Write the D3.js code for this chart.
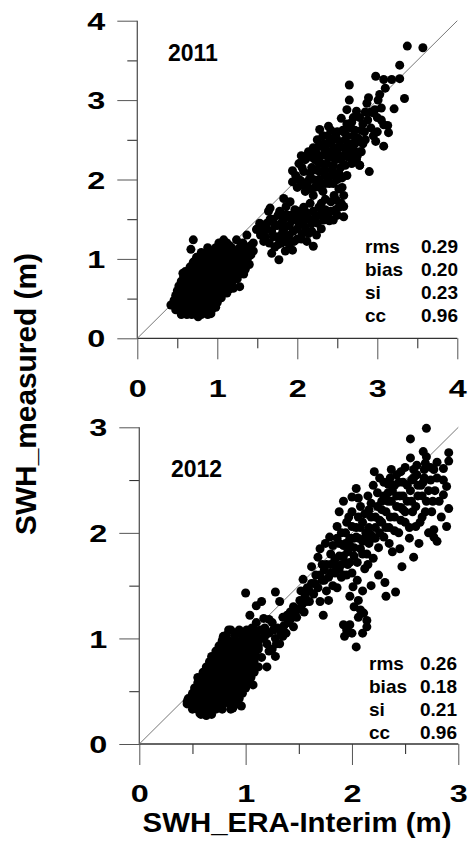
<!DOCTYPE html>
<html>
<head>
<meta charset="utf-8">
<script src="https://cdn.jsdelivr.net/npm/d3@7"></script>
<style>
body{margin:0;background:#fff}
text{font-family:"Liberation Sans",Arial,sans-serif;font-weight:bold;fill:#000}
</style>
</head>
<body>
<script>
var years=["2011","2012"]
var statNames=["rms","bias","si","cc"]
var stats2011=["0.29","0.20","0.23","0.96"]
var stats2012=["0.26","0.18","0.21","0.96"]
var ticks2011=[0,1,2,3,4]
var ticks2012=[0,1,2,3]
var minor2011=[0.5,1.5,2.5,3.5]
var minor2012=[0.5,1.5,2.5]
var xTitle="SWH_ERA-Interim (m)"
var yTitle="SWH_measured (m)"

// [ERA-Interim, measured]
var pts2011=[
[0.76,0.27],[0.55,0.30],[0.62,0.30],[0.68,0.30],[0.80,0.30],[0.88,0.30],[0.92,0.31],
[0.48,0.36],[0.53,0.36],[0.60,0.36],[0.66,0.36],[0.72,0.36],[0.78,0.36],[0.85,0.36],[0.93,0.36],[0.98,0.39],
[0.42,0.42],[0.47,0.42],[0.52,0.42],[0.58,0.42],[0.64,0.42],[0.70,0.42],[0.76,0.42],[0.82,0.42],[0.90,0.42],[0.97,0.42],[1.00,0.45],
[0.46,0.48],[0.51,0.48],[0.56,0.48],[0.62,0.48],[0.68,0.48],[0.74,0.48],[0.80,0.48],[0.86,0.48],[0.94,0.48],[1.00,0.48],
[0.95,0.51],[1.05,0.51],
[0.48,0.54],[0.53,0.54],[0.59,0.54],[0.65,0.54],[0.71,0.54],[0.77,0.54],[0.83,0.54],[0.89,0.54],[0.96,0.54],[1.05,0.55],
[0.50,0.60],[0.55,0.60],[0.61,0.60],[0.67,0.60],[0.73,0.60],[0.79,0.60],[0.85,0.60],[0.91,0.60],[0.99,0.60],[1.08,0.60],[1.15,0.62],
[1.05,0.63],[1.12,0.63],[1.20,0.63],
[0.52,0.66],[0.57,0.66],[0.63,0.66],[0.69,0.66],[0.75,0.66],[0.81,0.66],[0.87,0.66],[0.94,0.66],[1.02,0.66],[1.28,0.65],
[1.10,0.69],[1.18,0.69],
[0.55,0.72],[0.60,0.72],[0.66,0.72],[0.72,0.72],[0.78,0.72],[0.84,0.72],[0.90,0.72],[0.97,0.72],[1.05,0.72],[1.14,0.72],[1.20,0.76],
[1.15,0.75],[1.25,0.75],
[0.58,0.78],[0.64,0.78],[0.70,0.78],[0.76,0.78],[0.82,0.78],[0.88,0.78],[0.95,0.78],[1.02,0.78],[1.10,0.78],[1.20,0.80],
[1.05,0.81],[1.25,0.81],[1.33,0.81],
[0.57,0.82],[0.60,0.84],[0.66,0.84],[0.72,0.84],[0.78,0.84],[0.85,0.84],[0.92,0.84],[0.99,0.84],[1.06,0.84],[1.15,0.84],[1.28,0.86],
[1.12,0.87],[1.22,0.87],[1.35,0.87],
[0.66,0.90],[0.72,0.90],[0.79,0.90],[0.86,0.90],[0.93,0.90],[1.00,0.90],[1.08,0.90],[1.18,0.90],[1.28,0.92],[1.38,0.95],
[1.18,0.93],[1.40,0.93],
[0.70,0.96],[0.77,0.96],[0.84,0.96],[0.91,0.96],[0.98,0.96],[1.05,0.96],[1.13,0.96],[1.22,0.96],[1.32,0.98],
[1.17,0.99],[1.27,0.99],[1.37,0.99],
[0.74,1.02],[0.82,1.02],[0.90,1.02],[0.98,1.02],[1.06,1.02],[1.14,1.02],[1.22,1.02],[1.30,1.02],[1.40,1.04],
[1.20,1.05],[1.30,1.05],[1.42,1.05],
[0.80,1.08],[0.90,1.08],[1.00,1.08],[1.08,1.08],[1.16,1.08],[1.25,1.08],[1.35,1.08],[1.45,1.10],
[1.12,1.11],[1.32,1.11],[1.42,1.11],
[0.67,1.12],[0.88,1.14],[0.98,1.14],[1.06,1.14],[1.18,1.14],[1.28,1.14],[1.38,1.14],[1.45,1.20],
[1.15,1.17],[1.30,1.17],[1.42,1.17],
[0.70,1.24],[1.02,1.20],[1.08,1.24],[1.12,1.20],[1.24,1.24],[1.32,1.20],[1.37,1.30],[1.49,1.37],[1.12,0.57],[0.99,0.61],
[1.50,1.38],[1.53,1.45],[1.58,1.37],[1.60,1.28],[1.62,1.45],[1.64,1.60],[1.66,1.64],[1.65,1.20],[1.68,1.07],[1.68,1.35],
[1.70,1.50],[1.72,1.15],[1.74,1.28],[1.75,1.42],[1.77,0.99],[1.78,1.60],[1.80,1.20],[1.82,1.35],[1.83,1.76],[1.83,1.50],
[1.85,1.10],[1.86,1.66],[1.88,1.28],[1.90,1.42],[1.91,1.72],[1.92,1.55],[1.94,1.11],[1.95,1.35],[1.97,1.62],[2.00,1.25],
[2.02,1.45],[2.05,1.55],[2.06,1.32],[2.08,1.65],[2.10,1.40],[2.12,1.22],[2.15,1.50],[2.16,1.70],[2.18,1.35],[2.20,1.16],
[2.20,1.60],[2.25,1.45],[2.28,1.55],[2.30,1.38],[2.33,1.49],[2.35,1.62],[2.40,1.48],[2.42,1.72],[2.45,1.49],[2.48,1.62],
[2.50,1.55],[2.55,1.70],[2.58,1.53],[2.49,1.74],[2.58,1.66],
[1.62,1.38],[1.66,1.50],[1.70,1.28],[1.72,1.42],[1.76,1.18],[1.76,1.55],[1.80,1.30],[1.80,1.45],[1.84,1.22],[1.85,1.40],
[1.86,1.56],[1.90,1.18],[1.90,1.30],[1.93,1.48],[1.96,1.22],[1.98,1.52],[2.00,1.38],[2.03,1.60],[2.05,1.25],[2.08,1.48],
[2.12,1.58],[2.14,1.32],[2.18,1.45],[2.22,1.52],[2.24,1.30],[2.27,1.65],[2.32,1.58],[2.38,1.55],[2.42,1.60],[2.52,1.65],
[1.58,1.22],[1.54,1.30],
[1.94,2.11],[1.94,1.97],[1.98,2.05],[2.00,1.90],[2.02,2.20],[2.05,1.98],[2.08,2.10],[2.10,1.85],[2.12,2.30],[2.14,2.35],
[2.15,2.00],[2.18,2.15],[2.20,1.80],[2.20,2.40],[2.22,2.25],[2.25,1.95],[2.25,2.50],[2.28,2.63],[2.28,2.10],[2.30,2.30],
[2.32,1.85],[2.33,2.45],[2.35,2.05],[2.37,2.20],[2.38,2.55],[2.39,2.67],[2.40,1.95],[2.42,2.35],[2.44,2.12],[2.45,2.50],
[2.46,1.80],[2.48,2.25],[2.50,2.00],[2.50,2.60],[2.52,2.40],[2.54,2.15],[2.55,2.77],[2.56,1.90],[2.58,2.30],[2.60,2.50],
[2.62,2.05],[2.62,2.70],[2.65,2.35],[2.66,2.65],[2.68,2.20],[2.70,2.55],[2.72,2.45],[2.74,2.86],[2.75,2.30],[2.78,2.35],
[2.78,2.18],[2.80,2.62],[2.82,2.70],[2.85,2.50],[2.87,2.96],[2.89,3.03],[2.90,2.10],[2.92,2.65],[2.95,2.84],[2.97,2.88],
[2.98,2.48],[3.00,2.60],[3.01,3.00],[3.03,3.07],[3.05,2.75],[3.08,2.42],[3.08,2.69],[3.10,3.15],[3.13,2.68],[3.14,2.59],
[3.18,3.26],[3.08,3.26],[2.98,3.30],[3.21,2.89],[3.28,3.27],[3.28,3.44],[3.34,3.02],[3.375,3.68],[3.57,3.66],[2.65,3.19],
[2.65,3.00],[2.62,2.88],[2.70,2.78],[2.58,2.60],[2.78,2.18],[2.80,2.35],[2.35,1.75],[2.30,1.70],[2.22,1.90],[2.05,2.30],
[2.02,2.00],[2.06,2.15],[2.10,2.25],[2.12,1.95],[2.16,2.08],[2.18,2.28],[2.20,2.00],[2.23,2.35],[2.24,2.12],[2.27,2.42],
[2.27,2.00],[2.30,2.20],[2.32,2.55],[2.34,2.38],[2.35,2.12],[2.38,2.00],[2.38,2.45],[2.40,2.28],[2.42,2.62],[2.43,2.05],
[2.45,2.18],[2.46,2.40],[2.48,2.55],[2.50,2.32],[2.52,2.08],[2.53,2.48],[2.55,2.25],[2.57,2.62],[2.58,2.40],[2.60,2.18],
[2.62,2.55],[2.64,2.28],[2.66,2.45],[2.68,2.72],[2.70,2.38],[2.72,2.62],[2.74,2.25],[2.76,2.52],[2.78,2.78],[2.82,2.45],
[2.84,2.60],[2.88,2.75],[2.92,2.85],[2.95,2.55],[3.00,2.78],[3.05,2.90],[2.45,1.95],[2.52,1.88],[2.58,1.80],[2.35,1.95],
[2.28,1.90],[2.08,1.92],[2.16,1.88],[2.26,2.22],[2.36,2.30],[2.44,2.30],[2.56,2.02],[2.62,2.40],[2.68,2.30],[2.85,2.85]
]

var pts2012=[
[0.58,0.28],[0.63,0.27],[0.68,0.28],[0.57,0.29],
[0.50,0.33],[0.55,0.33],[0.60,0.33],[0.66,0.33],[0.72,0.33],[0.78,0.33],[0.86,0.33],[0.88,0.34],[0.96,0.36],
[0.45,0.38],[0.50,0.38],[0.55,0.38],[0.61,0.38],[0.67,0.38],[0.73,0.38],[0.79,0.38],[0.85,0.38],[0.92,0.38],[0.45,0.40],
[0.46,0.43],[0.51,0.43],[0.57,0.43],[0.62,0.43],[0.68,0.43],[0.74,0.43],[0.80,0.43],[0.87,0.43],[0.94,0.43],
[0.50,0.48],[0.55,0.48],[0.60,0.48],[0.66,0.48],[0.72,0.48],[0.78,0.48],[0.84,0.48],[0.90,0.48],[0.97,0.48],
[0.52,0.53],[0.57,0.53],[0.63,0.53],[0.69,0.53],[0.75,0.53],[0.81,0.53],[0.87,0.53],[0.94,0.53],[1.00,0.53],[1.07,0.56],
[0.55,0.58],[0.60,0.58],[0.66,0.58],[0.72,0.58],[0.78,0.58],[0.84,0.58],[0.90,0.58],[0.96,0.58],[1.03,0.58],
[0.55,0.63],[0.58,0.63],[0.63,0.63],[0.69,0.63],[0.75,0.63],[0.81,0.63],[0.87,0.63],[0.93,0.63],[0.99,0.63],[1.05,0.63],
[0.60,0.68],[0.66,0.68],[0.72,0.68],[0.78,0.68],[0.84,0.68],[0.90,0.68],[0.96,0.68],[1.02,0.68],[1.08,0.68],
[0.63,0.73],[0.69,0.73],[0.75,0.73],[0.81,0.73],[0.87,0.73],[0.93,0.73],[0.99,0.73],[1.05,0.73],[1.12,0.73],[1.20,0.73],
[0.66,0.78],[0.72,0.78],[0.78,0.78],[0.84,0.78],[0.90,0.78],[0.96,0.78],[1.02,0.78],[1.08,0.78],
[0.68,0.83],[0.74,0.83],[0.80,0.83],[0.86,0.83],[0.92,0.83],[0.98,0.83],[1.04,0.83],[1.10,0.83],[1.28,0.83],
[0.72,0.88],[0.78,0.88],[0.84,0.88],[0.90,0.88],[0.96,0.88],[1.02,0.88],[1.08,0.88],
[0.75,0.93],[0.81,0.93],[0.87,0.93],[0.93,0.93],[0.99,0.93],[1.05,0.93],[1.12,0.93],
[0.78,0.98],[0.84,0.98],[0.90,0.98],[0.96,0.98],[1.02,0.98],[1.08,0.98],[0.79,1.02],
[0.82,1.03],[0.90,1.03],[0.97,1.03],[1.04,1.03],[1.10,1.03],
[0.84,1.08],[0.86,1.08],[0.94,1.08],[1.01,1.08],[1.08,1.08],
[1.08,0.85],[1.12,0.98],[1.15,0.82],[1.06,1.10],[1.10,1.15],[1.14,1.08],[1.18,1.02],[1.22,0.88],[1.22,1.18],[1.26,1.08],
[1.33,1.05],[1.36,1.12],[1.42,1.18],[1.47,1.25],[1.53,1.32],[1.57,1.35],[1.60,1.45],[1.65,1.52],[1.70,1.60],
[1.05,0.95],[1.10,1.05],[1.12,0.90],[1.15,1.00],[1.15,1.35],[1.10,1.31],[1.04,1.22],[1.17,1.19],[1.00,1.43],[1.28,1.44],
[1.32,1.35],[1.18,1.10],[1.20,0.95],[1.22,1.05],[1.25,0.90],[1.25,1.15],[1.28,1.00],[1.29,0.95],[1.30,1.10],[1.32,0.95],
[1.35,1.20],[1.35,1.02],[1.38,1.05],[1.39,1.22],[1.40,1.15],[1.42,1.25],[1.45,1.11],[1.45,1.30],[1.48,1.20],[1.50,1.28],
[1.51,1.36],[1.52,1.45],[1.54,1.56],[1.55,1.25],[1.56,1.40],[1.58,1.48],[1.60,1.35],[1.62,1.52],[1.62,1.68],[1.64,1.42],
[1.66,1.60],[1.68,1.48],[1.68,1.77],[1.70,1.35],[1.70,1.85],[1.72,1.55],[1.72,1.70],[1.73,1.22],[1.74,1.65],[1.75,1.90],
[1.76,1.45],[1.78,1.58],[1.78,1.36],[1.79,1.96],[1.80,1.70],[1.82,1.50],[1.84,1.62],
[1.80,1.80],[1.82,1.88],[1.85,1.68],[1.86,2.06],[1.86,1.95],[1.88,1.78],[1.90,1.58],[1.90,2.00],[1.92,1.88],[1.94,1.72],
[1.95,2.10],[1.96,1.82],[1.97,2.15],[1.98,1.95],[2.00,1.62],[2.00,2.20],[2.00,2.34],[2.02,1.86],[2.04,2.05],[2.04,2.42],
[2.05,1.72],[2.06,1.95],[2.06,2.33],[2.08,2.25],[2.10,1.80],[2.10,2.10],[2.12,1.66],[2.13,2.00],[2.15,2.35],[2.16,1.90],
[2.18,2.15],[2.20,1.76],[2.20,2.45],[2.21,2.58],[2.22,2.05],[2.24,2.25],[2.25,1.86],[2.26,2.52],[2.28,2.10],[2.30,2.35],
[2.30,1.96],[2.32,2.20],[2.34,2.46],[2.35,2.05],[2.37,2.30],[2.37,2.60],[2.38,1.82],[2.40,2.45],[2.40,2.15],[2.42,2.55],
[2.44,2.00],[2.45,2.35],[2.46,2.24],[2.48,2.48],[2.50,2.10],[2.50,2.62],[2.52,2.30],[2.54,1.95],[2.55,2.40],[2.55,2.71],
[2.55,2.89],[2.57,2.20],[2.58,2.52],[2.60,2.06],[2.61,2.64],[2.61,2.55],[2.62,2.35],[2.63,1.90],[2.65,2.45],[2.66,2.15],
[2.67,2.77],[2.67,2.48],[2.68,2.60],[2.69,2.66],[2.69,2.20],[2.70,2.72],[2.70,2.99],[2.70,2.30],[2.72,2.00],[2.74,2.50],
[2.75,2.20],[2.77,2.60],[2.77,2.03],[2.77,1.96],[2.78,2.40],[2.80,2.67],[2.80,2.52],[2.80,1.92],[2.82,2.30],[2.84,2.15],
[2.86,2.61],[2.86,2.36],[2.86,2.50],[2.89,2.44],[2.89,2.06],[2.91,2.76],[2.91,2.68],[2.91,2.23],
[1.84,1.75],[1.88,1.90],[1.92,1.78],[1.94,2.00],[1.96,1.70],[1.98,1.88],[2.00,2.06],[2.02,1.78],[2.04,1.96],[2.06,2.15],
[2.08,1.85],[2.08,2.05],[2.12,1.95],[2.12,2.18],[2.14,1.80],[2.16,2.05],[2.18,2.28],[2.20,1.95],[2.22,2.15],[2.24,2.38],
[2.26,2.00],[2.28,2.22],[2.30,2.48],[2.32,2.05],[2.34,2.30],[2.36,2.15],[2.38,2.40],[2.40,2.02],[2.42,2.25],[2.44,2.48],
[2.46,2.12],[2.48,2.35],[2.50,2.20],[2.52,2.45],[2.54,2.05],[2.56,2.30],[2.58,2.60],[2.60,2.25],[2.62,2.45],[2.64,2.10],
[2.66,2.35],[2.68,2.52],[2.72,2.40],[2.74,2.62],[2.76,2.30],[1.76,1.70],[1.74,1.55],[1.80,1.62],[1.86,1.48],[1.92,1.60],
[1.98,1.72],[1.88,1.66],[1.94,1.90],[2.02,1.95],[2.10,1.92],[2.18,1.98],[2.26,2.12],[2.34,2.38],[2.42,2.35],[2.48,2.22],
[2.16,2.22],[2.28,2.30],[2.36,2.52],[2.46,2.58],[2.56,2.50],
[2.58,1.77],[2.47,1.68],[2.41,1.44],[2.32,1.40],[2.31,1.53],[2.25,1.60],[2.18,1.50],[2.10,1.45],[2.05,1.55],[2.01,1.49],
[1.98,1.40],[2.06,1.36],[2.08,1.27],[2.11,1.24],[2.14,1.17],[2.14,1.11],[2.02,1.30],[2.06,1.20],[1.92,1.13],[1.98,1.13],
[1.95,1.08],[1.93,1.02],[2.00,1.05],[2.10,1.05],[2.04,0.92],[1.90,1.70],[1.95,1.60],[2.15,1.70],[2.22,1.95],[2.35,1.90],
[2.45,1.85],[1.88,2.20],[1.92,2.30]
]

var svg=d3.select("body").append("svg").attr("width",469).attr("height",843)

var drawPanel=function(pts,max,ticks,minor,year,stats,box){
  var x=d3.scaleLinear().domain([0,max]).range([box.x0,box.x1])
  var y=d3.scaleLinear().domain([0,max]).range([box.y0,box.y1])
  var g=svg.append("g")

  // minor ticks
  var xm=g.append("g").attr("transform","translate(0,"+y(0)+")").attr("color","#222")
    .call(d3.axisBottom(x).tickValues(minor).tickSize(10).tickSizeOuter(0).tickFormat(""))
  var ym=g.append("g").attr("transform","translate("+x(0)+",0)").attr("color","#222")
    .call(d3.axisLeft(y).tickValues(minor).tickSize(10).tickSizeOuter(0).tickFormat(""))
  xm.select(".domain").remove()
  ym.select(".domain").remove()

  // major ticks
  var xa=g.append("g").attr("transform","translate(0,"+y(0)+")").attr("color","#555")
    .call(d3.axisBottom(x).tickValues(ticks).tickSize(21).tickSizeOuter(0).tickFormat(d3.format("d")))
  var ya=g.append("g").attr("transform","translate("+x(0)+",0)").attr("color","#555")
    .call(d3.axisLeft(y).tickValues(ticks).tickSize(20).tickSizeOuter(0).tickFormat(d3.format("d")))
  xa.select(".domain").remove()
  ya.select(".domain").remove()
  xa.selectAll("text").style("font-size","24px").attr("y",box.xlab).attr("dy",null)
    .attr("transform","scale(1.35,1)")
  ya.selectAll("text").style("font-size","24px").attr("x",-32/1.35).attr("dy","0.36em")
    .attr("transform","scale(1.35,1)")

  // axis lines
  g.append("line").attr("x1",x(0)).attr("x2",x(max)).attr("y1",y(0)).attr("y2",y(0))
    .attr("stroke","#333").attr("stroke-width",1.3)
  g.append("line").attr("x1",x(0)).attr("x2",x(0)).attr("y1",y(0)).attr("y2",y(max))
    .attr("stroke","#555").attr("stroke-width",1.3)

  // 1:1 line
  g.append("line").attr("x1",x(0)).attr("y1",y(0)).attr("x2",x(max)).attr("y2",y(max))
    .attr("stroke","#777").attr("stroke-width",1)

  g.append("g").selectAll("circle")
    .data(pts)
    .enter()
    .append("circle")
    .attr("cx",function(d){return x(d[0])})
    .attr("cy",function(d){return y(d[1])})
    .attr("r",4.5)
    .attr("fill","#000")

  g.append("text").attr("x",box.yearX).attr("y",box.yearY).style("font-size","23px").text(year)

  var st=g.append("g")
  st.selectAll(".lab").data(statNames).enter().append("text").attr("class","lab")
    .attr("x",box.statX)
    .attr("y",function(d,i){return box.statY+i*23})
    .style("font-size","19px")
    .text(function(d){return d})
  st.selectAll(".val").data(stats).enter().append("text").attr("class","val")
    .attr("x",box.valX)
    .attr("y",function(d,i){return box.statY+i*23})
    .attr("text-anchor","end")
    .style("font-size","19px")
    .text(function(d){return d})
}

drawPanel(pts2011,4,ticks2011,minor2011,years[0],stats2011,
  {x0:137.3,x1:457.3,y0:338.3,y1:20.7,xlab:58.7,yearX:168,yearY:61,statX:365,valX:458,statY:253})
drawPanel(pts2012,3,ticks2012,minor2012,years[1],stats2012,
  {x0:139.3,x1:458.3,y0:744,y1:427.3,xlab:58,yearX:171,yearY:477,statX:369,valX:457,statY:670})

svg.append("text").attr("x",297).attr("y",832).attr("text-anchor","middle")
  .style("font-size","28px").attr("textLength",309).attr("lengthAdjust","spacingAndGlyphs")
  .text(xTitle)
svg.append("text").attr("transform","translate(36,394) rotate(-90)").attr("text-anchor","middle")
  .style("font-size","29px").attr("textLength",282).attr("lengthAdjust","spacingAndGlyphs")
  .text(yTitle)
</script>
</body>
</html>
